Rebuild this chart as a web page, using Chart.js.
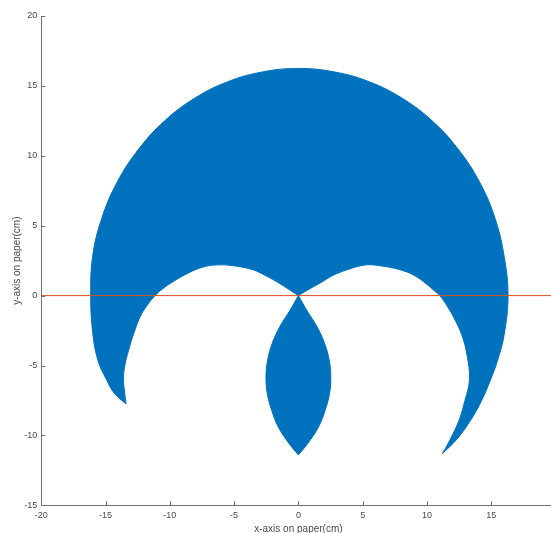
<!DOCTYPE html>
<html>
<head>
<meta charset="utf-8">
<script src="https://cdn.jsdelivr.net/npm/chart.js@4.4.1/dist/chart.umd.min.js"></script>
<style>
  html, body { margin: 0; padding: 0; background: #fff; overflow: hidden; }
  #wrap { width: 570px; height: 533px; }
</style>
</head>
<body>
<div id="wrap"><canvas id="penChart" width="570" height="533" style="width:570px;height:533px"></canvas></div>
<script>
// outline of the drawn region (x, y in cm)
const outerArc = [
    [-13.4, -7.75], [-14.3, -7.0], [-14.9, -6.05], [-15.6, -4.6], [-16.0, -2.6], [-16.15, 0],
    [-16.0, 2.8], [-15.3, 5.5], [-14.1, 8.1], [-12.4, 10.5], [-10.4, 12.5], [-8.1, 14.1],
    [-5.5, 15.3], [-2.8, 16.0], [0, 16.25], [2.8, 16.0], [5.5, 15.3], [8.1, 14.1],
    [10.4, 12.5], [12.4, 10.5], [14.1, 8.1], [15.3, 5.5], [16.0, 2.8], [16.3, 0],
    [16.0, -2.8], [15.5, -4.6], [14.95, -6.0], [14.25, -7.5], [13.4, -8.9], [12.3, -10.3], [11.2, -11.3]
];
const rightInner = [
    [11.8, -10.3], [12.5, -8.9], [12.95, -7.5], [13.3, -6.0], [13.1, -4.2], [12.7, -2.8],
    [12.1, -1.6], [11.6, -0.8], [11.0, 0], [10.5, 0.4], [10.0, 0.8], [9.0, 1.45], [7.9, 1.85],
    [6.6, 2.1], [5.3, 2.2], [3.8, 1.85], [2.7, 1.45], [1.7, 0.9], [1.0, 0.55], [0.45, 0.25], [0, 0]
];
const lensLeft = [
    [-0.65, -1.05], [-1.43, -2.2], [-2.03, -3.4], [-2.39, -4.6], [-2.52, -5.8],
    [-2.42, -7.0], [-2.08, -8.2], [-1.56, -9.4], [-0.71, -10.6], [0, -11.4]
];
const lensRight = [
    [0.71, -10.6], [1.56, -9.4], [2.08, -8.2], [2.42, -7.0], [2.52, -5.8],
    [2.39, -4.6], [2.03, -3.4], [1.43, -2.2], [0.65, -1.05], [0, 0]
];
const leftInner = [
    [-0.5, 0.3], [-1.0, 0.6], [-1.7, 1.0], [-2.6, 1.45], [-3.5, 1.84], [-4.8, 2.1], [-6.1, 2.2],
    [-7.4, 2.05], [-8.7, 1.55], [-10.0, 0.85], [-10.6, 0.45], [-11.15, 0], [-11.8, -0.75],
    [-12.3, -1.5], [-12.8, -2.7], [-13.2, -3.9], [-13.5, -5.0], [-13.6, -6.0], [-13.5, -7.0], [-13.4, -7.75]
];
const baseLine = [[-20, 0], [20, 0]];

const xTicks = [-20, -15, -10, -5, 0, 5, 10, 15, 20];
const yTicks = [-15, -10, -5, 0, 5, 10, 15, 20];

const toPts = arr => arr.map(p => ({ x: p[0], y: p[1] }));
const last = arr => [arr[arr.length - 1]];
// repeat the tip / cusp points so the spline keeps them sharp
const outline = toPts([].concat(
    outerArc, last(outerArc),
    rightInner, last(rightInner),
    lensLeft, last(lensLeft),
    lensRight, last(lensRight),
    leftInner
));

const axisColor = '#6e6e6e';
const textColor = '#4a4a4a';
Chart.defaults.font.family = '"Liberation Sans", Arial, Helvetica, sans-serif';

// matlab style ticks pointing into the plot
const innerTicks = {
    id: 'innerTicks',
    afterDraw(chart) {
        const { ctx, chartArea, scales } = chart;
        ctx.save();
        ctx.strokeStyle = axisColor;
        ctx.lineWidth = 1;
        ctx.beginPath();
        xTicks.forEach(v => {
            const px = Math.round(scales.x.getPixelForValue(v)) + 0.5;
            ctx.moveTo(px, chartArea.bottom);
            ctx.lineTo(px, chartArea.bottom - 4);
        });
        yTicks.forEach(v => {
            const py = Math.round(scales.y.getPixelForValue(v)) + 0.5;
            ctx.moveTo(chartArea.left, py);
            ctx.lineTo(chartArea.left + 4, py);
        });
        ctx.stroke();
        ctx.restore();
    }
};

new Chart(document.getElementById('penChart').getContext('2d'), {
    type: 'line',
    data: {
        datasets: [{
            data: toPts(baseLine),
            borderColor: '#D95319',
            borderWidth: 1,
            pointRadius: 0,
            fill: false,
            order: 0
        }, {
            data: outline,
            borderColor: '#0072BD',
            backgroundColor: '#0072BD',
            borderWidth: 1,
            pointRadius: 0,
            tension: 0.4,
            fill: 'shape',
            order: 1
        }]
    },
    options: {
        responsive: false,
        animation: false,
        devicePixelRatio: 1,
        layout: { padding: { top: 16, right: 14.4, bottom: 0, left: 0 } },
        plugins: { legend: { display: false }, tooltip: { enabled: false } },
        scales: {
            x: {
                type: 'linear',
                min: -20, max: 20,
                afterFit: s => { s.height = 27.7; },
                afterBuildTicks: s => { s.ticks = xTicks.map(v => ({ value: v })); },
                grid: { drawOnChartArea: false, drawTicks: false },
                border: { display: true, color: axisColor, width: 1 },
                ticks: { padding: 5, color: textColor, font: { size: 9 }, maxRotation: 0 },
                title: {
                    display: true, text: 'x-axis on paper(cm)', color: textColor,
                    font: { size: 10 }, padding: { top: 0, bottom: -2 }
                }
            },
            y: {
                type: 'linear',
                min: -15, max: 20,
                afterFit: s => { s.width = 41.2; },
                afterBuildTicks: s => { s.ticks = yTicks.map(v => ({ value: v })); },
                grid: { drawOnChartArea: false, drawTicks: false },
                border: { display: true, color: axisColor, width: 1 },
                ticks: { padding: 4, color: textColor, font: { size: 9 } },
                title: {
                    display: true, text: 'y-axis on paper(cm)', color: textColor,
                    font: { size: 10 }, padding: { top: 11, bottom: 0 }
                }
            }
        }
    },
    plugins: [innerTicks]
});
</script>
</body>
</html>
